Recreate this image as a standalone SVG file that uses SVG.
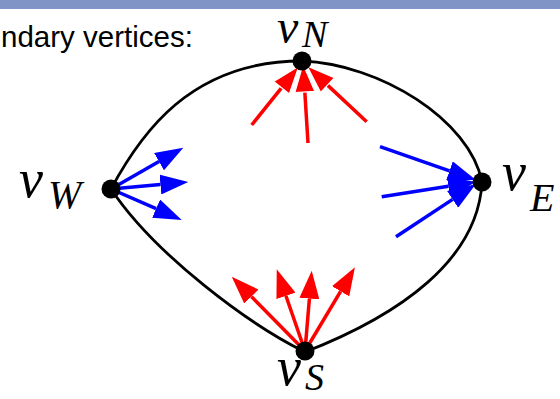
<svg xmlns="http://www.w3.org/2000/svg" width="560" height="399" viewBox="0 0 560 399">
<style>
.math{font-family:"Liberation Serif","Times New Roman",serif;font-style:italic;fill:#000}
.v{font-size:54px}
.sub{font-size:40px}
.txt{font-family:"Liberation Sans",Arial,sans-serif;font-size:29.5px;fill:#000}
.red{stroke:#ff0000;stroke-width:3.5;fill:none}
.blue{stroke:#0000ff;stroke-width:3.5;fill:none}
.dot{fill:#000}
</style>
<defs>
<marker id="hr" viewBox="0 -10 28 20" refX="0" refY="0" markerWidth="28" markerHeight="20" markerUnits="userSpaceOnUse" orient="auto">
<path d="M0,-10 L28,0 L0,10 Z" fill="#ff0000"/>
</marker>
<marker id="hrw" viewBox="-1 -11 30 22" refX="0" refY="0" markerWidth="30" markerHeight="22" markerUnits="userSpaceOnUse" orient="auto">
<path d="M0,-10 L28,0 L0,10 Z" fill="#ff0000" stroke="#ffffff" stroke-width="1.2"/>
</marker>
<marker id="hb" viewBox="0 -10 28 20" refX="0" refY="0" markerWidth="28" markerHeight="20" markerUnits="userSpaceOnUse" orient="auto">
<path d="M0,-10 L28,0 L0,10 Z" fill="#0000ff"/>
</marker>
</defs>
<rect x="0" y="0" width="560" height="9" fill="#8094c6"/>
<text class="txt" x="1" y="47">ndary vertices:</text>
<g id="connectors">
<path id="boundary" d="M111,189 C140,135 190,61 302,61 C380,64 470,120 482,182 C478,260 400,315 305,352 C250,325 155,255 111,189 Z" fill="none" stroke="#000" stroke-width="2.8"/>
<g id="north-arrows">
<line class="red" x1="251.7" y1="125" x2="281.5" y2="87.8" marker-end="url(#hrw)"/>
<line class="red" x1="308" y1="143" x2="304.8" y2="92" marker-end="url(#hrw)"/>
<line class="red" x1="366.7" y1="121.7" x2="327.5" y2="85.1" marker-end="url(#hrw)"/>
</g>
<g id="south-arrows">
<line class="red" x1="305" y1="351" x2="251.4" y2="296.6" marker-end="url(#hr)"/>
<line class="red" x1="305" y1="351" x2="285.9" y2="295.8" marker-end="url(#hr)"/>
<line class="red" x1="305" y1="351" x2="309.4" y2="298.6" marker-end="url(#hr)"/>
<line class="red" x1="305" y1="351" x2="340.6" y2="291.3" marker-end="url(#hr)"/>
</g>
<g id="west-arrows">
<line class="blue" x1="111" y1="189" x2="159" y2="161.6" marker-end="url(#hb)"/>
<line class="blue" x1="111" y1="189" x2="160.4" y2="184.5" marker-end="url(#hb)"/>
<line class="blue" x1="111" y1="189" x2="156.1" y2="208.7" marker-end="url(#hb)"/>
</g>
<g id="east-arrows">
<line class="blue" x1="380" y1="146.7" x2="449.5" y2="170.8" marker-end="url(#hb)"/>
<line class="blue" x1="381.7" y1="196.7" x2="448.3" y2="186.3" marker-end="url(#hb)"/>
<line class="blue" x1="396" y1="236.7" x2="452.6" y2="199.4" marker-end="url(#hb)"/>
</g>
</g>
<g id="vN">
<circle class="dot" cx="302" cy="61" r="9.5"/>
<text class="math" x="277" y="43" font-size="48">v</text>
<text class="math" x="302" y="47" font-size="38">N</text>
</g>
<g id="vW">
<circle class="dot" cx="111" cy="189" r="9.5"/>
<text class="math v" x="19" y="197">v</text>
<text class="math sub" x="48" y="208">W</text>
</g>
<g id="vE">
<circle class="dot" cx="482" cy="182" r="9.5"/>
<text class="math v" x="502" y="190">v</text>
<text class="math sub" x="530" y="211">E</text>
</g>
<g id="vS">
<circle class="dot" cx="305" cy="351" r="9.5"/>
<text class="math v" x="277" y="385">v</text>
<text class="math" x="305" y="390" font-size="38">S</text>
</g>
</svg>
